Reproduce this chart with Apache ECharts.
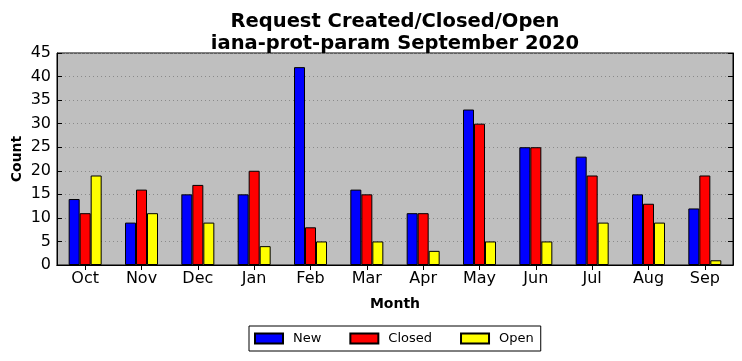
<!DOCTYPE html>
<html><head><meta charset="utf-8">
<script src="https://cdn.jsdelivr.net/npm/echarts@6/dist/echarts.min.js"></script>
<style>html,body{margin:0;padding:0;background:#fff}#c{width:742px;height:361px}</style>
</head><body><div id="c"></div>
<script>
const months = ['Oct','Nov','Dec','Jan','Feb','Mar','Apr','May','Jun','Jul','Aug','Sep'];
const newVals = [14,9,15,15,42,16,11,33,25,23,15,12];
const closedVals = [11,16,17,20,8,15,11,30,25,19,13,19];
const openVals = [19,11,9,4,5,5,3,5,5,9,9,1];
const yTicks = [0,5,10,15,20,25,30,35,40,45];

const chart = echarts.init(document.getElementById('c'), null, {renderer:'canvas'});
const font = 'DejaVu Sans';
const bar = (name, data, color) => ({
  name, type:'bar', data, barWidth:11, barGap:'0%',
  itemStyle:{color, borderColor:'#000', borderWidth:1},
  xAxisIndex:0, yAxisIndex:0
});
chart.setOption({
  animation:false,
  textStyle:{fontFamily:font},
  title:{
    text:'Request Created/Closed/Open\niana-prot-param September 2020',
    left:390, top:6, textAlign:'center',
    textStyle:{fontFamily:font, fontWeight:'bold', fontSize:19.5, lineHeight:22, color:'#000'}
  },
  legend:{
    data:['New','Closed','Open'],
    left:249, top:326,
    icon:'rect',
    itemWidth:28, itemHeight:10, itemGap:28,
    padding:[6,7,6,5],
    borderColor:'#000', borderWidth:1,
    textStyle:{fontFamily:font, fontSize:13, color:'#000', padding:[0,0,0,5]}
  },
  grid:{left:57, right:9, top:53, bottom:96, outerBoundsMode:'none', containLabel:false,
    show:true, backgroundColor:'#bfbfbf', borderColor:'#000', borderWidth:1},
  xAxis:[{
    type:'category', data:months, position:'bottom',
    axisLine:{show:true, lineStyle:{color:'#000'}},
    axisTick:{show:true, inside:true, alignWithLabel:true, length:5, lineStyle:{color:'#000'}},
    axisLabel:{fontFamily:font, fontSize:16, color:'#000', margin:6},
    name:'Month', nameLocation:'middle', nameGap:32,
    nameTextStyle:{fontFamily:font, fontWeight:'bold', fontSize:14, color:'#000'}
  },{
    type:'category', data:months, position:'top',
    axisLine:{show:true, lineStyle:{color:'#000'}},
    axisTick:{show:true, inside:true, alignWithLabel:true, length:5, lineStyle:{color:'#000'}},
    axisLabel:{show:false}
  }],
  yAxis:[{
    type:'value', min:yTicks[0], max:yTicks[yTicks.length-1], interval:5,
    axisLine:{show:true, lineStyle:{color:'#000'}},
    axisTick:{show:true, inside:true, length:5, lineStyle:{color:'#000'}},
    axisLabel:{fontFamily:font, fontSize:16, color:'#000', margin:6},
    splitLine:{show:true, lineStyle:{color:'#8a8a8a', type:[1,3], width:1}},
    name:'Count', nameLocation:'middle', nameGap:33, nameMoveOverlap:false,
    nameTextStyle:{fontFamily:font, fontWeight:'bold', fontSize:14, color:'#000'}
  },{
    type:'value', min:yTicks[0], max:yTicks[yTicks.length-1], interval:5, position:'right',
    axisLine:{show:true, lineStyle:{color:'#000'}},
    axisTick:{show:true, inside:true, length:5, lineStyle:{color:'#000'}},
    axisLabel:{show:false}, splitLine:{show:false}
  }],
  series:[
    bar('New', newVals, '#0000ff'),
    bar('Closed', closedVals, '#ff0000'),
    bar('Open', openVals, '#ffff00')
  ]
});
</script></body></html>
